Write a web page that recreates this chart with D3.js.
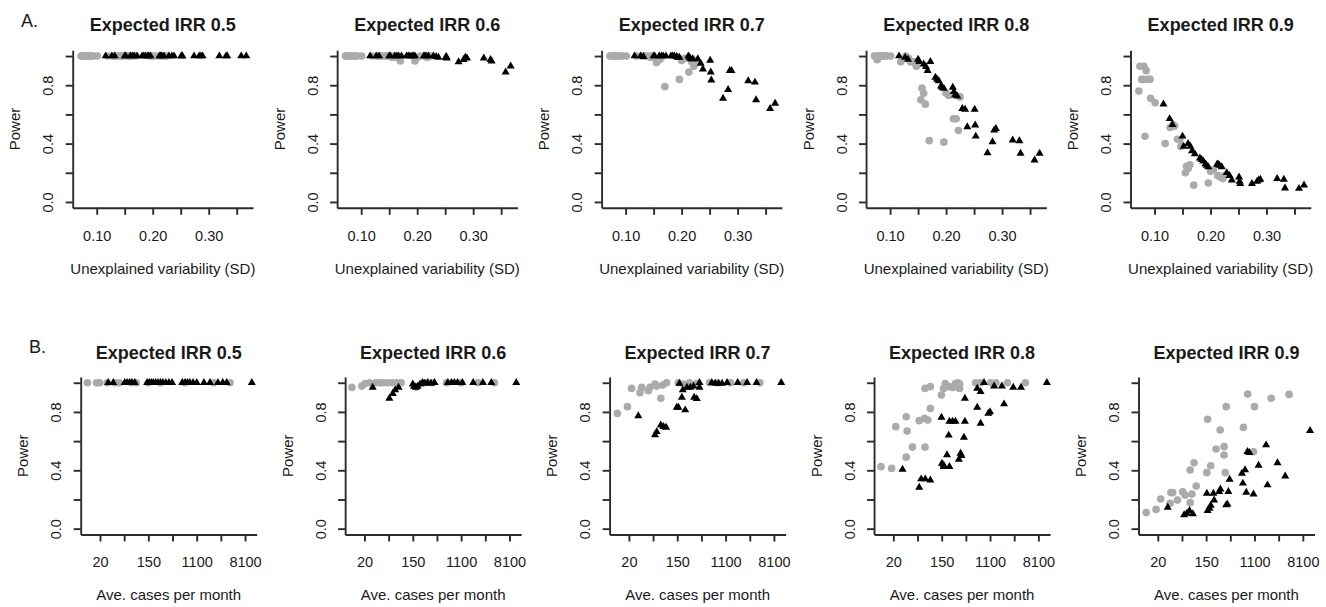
<!DOCTYPE html>
<html><head><meta charset="utf-8">
<script src="https://cdn.jsdelivr.net/npm/d3@7"></script>
<style>
body{margin:0;background:#fff;}
svg{display:block;}
text{font-family:"Liberation Sans",Arial,sans-serif;fill:#1a1a1a;}
</style></head><body>
<svg id="chart" width="1326" height="607"></svg>
<script>
// ---------- DATA ----------
const panelTitles = ["Expected IRR 0.5","Expected IRR 0.6","Expected IRR 0.7","Expected IRR 0.8","Expected IRR 0.9"];
const powerTicks = [0,0.2,0.4,0.6,0.8,1.0];
const powerTickLabels = ["0.0","","0.4","","0.8",""];
const sdTicks = [0.10,0.15,0.20,0.25,0.30,0.35];
const sdTickLabels = ["0.10","","0.20","","0.30",""];
const logCaseTicks = [3,4,5,6,7,8,9];            // natural log of cases
const caseTickLabels = ["20","","150","","1100","","8100"];

// Row A: unexplained variability (SD)
const sdGray  = [0.072,0.074,0.077,0.079,0.081,0.083,0.085,0.087,0.092,0.093,0.101,0.119,0.128,0.133,0.136,0.141,0.145,0.147,0.155,0.157,0.160,0.163,0.170,0.196,0.200,0.205,0.213,0.218,0.222,0.225];
const sdBlack = [0.116,0.127,0.132,0.150,0.152,0.160,0.164,0.167,0.172,0.181,0.184,0.187,0.191,0.193,0.196,0.212,0.214,0.216,0.220,0.229,0.234,0.238,0.251,0.252,0.253,0.274,0.283,0.286,0.289,0.319,0.331,0.333,0.358,0.367];

const powerGrayA05 = [1,1,1,1,1,1,1,1,1,1,1,1,1,1,1,1,1,1,1,1,1,1,1,1,1,1,1,1,1,1];
const powerGrayA06 = [1,1,1,1,1,1,1,1,1,1,1,1,1,1,1,1,1,1,0.99,1,1,0.99,0.966,0.966,0.99,1,1,0.99,1,1];
const powerGrayA07 = [1,1,1,1,1,1,1,1,1,1,1,1,1,1,1,1,0.99,1,0.955,0.97,0.975,0.985,0.79,0.84,0.97,0.985,0.89,0.96,0.93,0.97];
const powerGrayA08 = [1,1,0.975,1,1,1,1,1,1,1,1,0.96,1,0.985,0.96,0.96,0.96,0.93,0.70,0.78,0.745,0.67,0.42,0.41,0.745,0.73,0.57,0.57,0.49,0.72];
const powerGrayA09 = [0.76,0.93,0.84,0.84,0.93,0.45,0.90,0.84,0.84,0.71,0.68,0.40,0.51,0.53,0.52,0.43,0.425,0.38,0.20,0.245,0.23,0.255,0.115,0.13,0.21,0.22,0.18,0.17,0.16,0.18];

const powerBlackA05 = [1,1,1,1,1,1,1,1,1,1,1,1,1,1,1,1,1,1,1,1,1,1,1,1,1,1,1,1,1,1,1,1,1,1];
const powerBlackA06 = [1,1,1,1,1,1,1,1,1,1,1,1,1,1,1,1,1,1,1,1,0.995,0.99,0.99,0.995,0.985,0.96,0.975,0.99,0.985,0.985,0.975,0.965,0.89,0.93];
const powerBlackA07 = [1,1,0.995,1,1,1,1,1,1,1,1,1,0.995,0.99,0.99,1,0.99,0.98,0.98,0.98,0.95,0.91,0.97,0.89,0.835,0.71,0.77,0.90,0.90,0.83,0.82,0.70,0.64,0.675];
const powerBlackA08 = [1,0.99,0.977,0.977,0.961,0.945,0.927,0.90,0.961,0.854,0.84,0.83,0.794,0.785,0.778,0.785,0.755,0.732,0.725,0.64,0.634,0.515,0.634,0.526,0.45,0.336,0.412,0.492,0.503,0.423,0.419,0.332,0.286,0.332];
const powerBlackA09 = [0.67,0.57,0.53,0.45,0.38,0.40,0.38,0.35,0.33,0.30,0.29,0.28,0.26,0.25,0.24,0.26,0.255,0.25,0.24,0.20,0.18,0.15,0.17,0.14,0.125,0.125,0.14,0.15,0.155,0.16,0.155,0.095,0.092,0.115];

// Row B: [ln(average cases per month), power]
const grayB05 = [[2.48,1],[2.86,1],[2.98,1],[3.30,1],[3.62,1],[3.80,1],[4.30,1],[4.50,1],[5.00,1],[5.50,1],[6.50,1],[7.70,1],[8.38,1]];
const blackB05 = [[3.34,1],[3.55,1],[4.02,1],[4.12,1],[4.22,1],[4.32,1],[4.44,1],[4.95,1],[5.04,1],[5.12,1],[5.20,1],[5.30,1],[5.40,1],[5.50,1],[5.60,1],[5.72,1],[5.85,1],[5.98,1],[6.40,1],[6.52,1],[6.62,1],[6.72,1],[6.85,1],[7.00,1],[7.30,1],[7.55,1],[7.88,1],[8.08,1],[8.24,1],[9.28,1]];
const grayB06 = [[2.48,0.968],[2.89,0.977],[3.03,0.995],[3.22,1],[3.48,1],[3.65,1],[3.80,1],[3.97,1],[4.15,1],[4.33,1],[4.52,1],[5.14,0.97],[5.50,1],[5.80,1],[6.40,1],[7.00,1],[7.70,1],[8.38,1]];
const blackB06 = [[3.34,0.968],[4.03,0.893],[4.17,0.925],[4.27,0.95],[4.41,0.968],[5.00,0.99],[5.05,0.975],[5.12,0.968],[5.20,0.975],[5.30,0.99],[5.40,1],[5.50,0.995],[5.62,1],[5.75,0.995],[5.90,1],[6.45,1],[6.60,1],[6.72,1],[6.85,1],[7.05,1],[7.50,1],[7.90,1],[8.25,1],[9.28,1]];
const grayB07 = [[2.52,0.79],[2.94,0.836],[3.11,0.961],[3.46,0.932],[3.53,0.968],[3.80,0.945],[3.87,0.968],[4.08,0.99],[4.15,0.977],[4.32,0.893],[4.40,0.984],[4.56,1],[5.04,1],[5.26,0.99],[5.51,1],[5.81,0.995],[6.34,1],[6.64,1],[7.20,1],[7.75,1],[8.42,1]];
const blackB07 = [[3.39,0.772],[4.08,0.642],[4.15,0.664],[4.32,0.71],[4.43,0.699],[4.54,0.694],[4.98,0.831],[5.05,0.831],[5.09,0.995],[5.19,0.90],[5.23,0.95],[5.33,0.813],[5.40,0.968],[5.54,0.968],[5.67,0.977],[5.70,0.90],[5.81,0.89],[5.92,0.968],[5.92,1],[6.43,1],[6.57,0.995],[6.71,0.995],[6.85,0.995],[7.06,1],[7.50,1],[7.89,1],[8.28,1],[9.30,1]];
const grayB08 = [[2.49,0.425],[2.93,0.413],[3.10,0.699],[3.53,0.767],[3.53,0.49],[3.57,0.669],[3.79,0.559],[4.07,0.74],[4.29,0.756],[4.31,0.559],[4.31,0.961],[4.43,0.744],[4.53,0.824],[4.53,0.973],[4.99,0.916],[5.08,0.961],[5.15,0.995],[5.32,0.973],[5.46,0.968],[5.57,0.995],[5.68,1],[5.74,0.961],[5.74,0.99],[6.40,1],[6.61,1],[7.03,1],[7.24,1],[7.72,1],[8.46,1]];
const blackB08 = [[3.38,0.406],[4.07,0.283],[4.15,0.34],[4.32,0.34],[4.53,0.333],[4.99,0.763],[5.01,0.447],[5.08,0.436],[5.08,0.425],[5.22,0.505],[5.32,0.425],[5.29,0.64],[5.32,0.735],[5.45,0.735],[5.57,0.735],[5.71,0.475],[5.78,0.516],[5.82,0.5],[5.92,0.626],[5.96,0.735],[5.96,0.893],[6.47,0.831],[6.47,0.961],[6.61,0.721],[6.61,0.938],[6.75,1],[6.93,0.79],[7.0,0.80],[7.17,0.977],[7.49,0.977],[7.58,0.854],[7.96,0.968],[8.28,0.968],[9.35,1]];
const grayB09 = [[2.52,0.11],[2.93,0.132],[3.12,0.203],[3.51,0.174],[3.54,0.247],[3.62,0.247],[3.81,0.196],[4.03,0.253],[4.13,0.23],[4.34,0.402],[4.34,0.178],[4.41,0.237],[4.50,0.452],[4.59,0.292],[5.03,0.384],[5.06,0.749],[5.19,0.431],[5.41,0.546],[5.58,0.676],[5.74,0.562],[5.74,0.505],[5.79,0.384],[5.83,0.836],[6.54,0.694],[6.72,0.922],[6.96,0.527],[7.0,0.836],[7.69,0.893],[8.43,0.92]];
const blackB09 = [[3.41,0.146],[4.09,0.094],[4.20,0.105],[4.31,0.123],[4.45,0.101],[5.03,0.242],[5.06,0.123],[5.14,0.139],[5.19,0.16],[5.30,0.242],[5.33,0.196],[5.54,0.253],[5.59,0.27],[5.83,0.162],[5.88,0.167],[5.92,0.253],[5.97,0.338],[6.48,0.379],[6.61,0.402],[6.52,0.311],[6.66,0.249],[6.71,0.527],[6.79,0.521],[6.96,0.237],[7.17,0.434],[7.48,0.573],[7.54,0.299],[7.95,0.45],[8.27,0.36],[9.30,0.671]];

// ---------- LAYOUT ----------
const STEP = 264.45;
const rowA = {left:72.7, right:253, top:50.2, bottom:207.8, xDomain:[0.0571,0.3791],
  xTicks:sdTicks, xLabels:sdTickLabels, xTitle:"Unexplained variability (SD)", titleY:31, xTitleY:274, letter:"A.", letterX:21, letterY:27};
const rowB = {left:80.7, right:256.7, top:376.9, bottom:534.5, xDomain:[2.2015,9.483],
  xTicks:logCaseTicks, xLabels:caseTickLabels, xTitle:"Ave. cases per month", titleY:359, xTitleY:600, letter:"B.", letterX:29, letterY:353};

const svg = d3.select("#chart");
const AXIS = "#2b2b2b";
const GRAY = "#ababab";
const circ = d3.symbol().type(d3.symbolCircle).size(46);
const tri = d3.symbol().type(d3.symbolTriangle).size(28);

function drawPanel(cfg, i, title, grayPts, blackPts) {
  const g = svg.append("g").attr("transform", `translate(${i*STEP},0)`);
  const x = d3.scaleLinear().domain(cfg.xDomain).range([cfg.left, cfg.right]);
  const y = d3.scaleLinear().domain([-0.04, 1.04]).range([cfg.bottom, cfg.top]);

  const ya = g.append("g").attr("transform", `translate(${cfg.left},0)`)
    .call(d3.axisLeft(y).tickValues(powerTicks).tickFormat((d,k)=>powerTickLabels[k]).tickSize(7).tickSizeOuter(0));
  ya.selectAll("text").attr("transform","rotate(-90)").attr("x",0).attr("y",-24.5).attr("dy","0.35em")
    .attr("text-anchor","middle").style("font-size","14.5px");
  const xa = g.append("g").attr("transform", `translate(0,${cfg.bottom})`)
    .call(d3.axisBottom(x).tickValues(cfg.xTicks).tickFormat((d,k)=>cfg.xLabels[k]).tickSize(7).tickSizeOuter(0).tickPadding(15.7));
  xa.selectAll("text").style("font-size","14.5px");
  g.selectAll(".domain, .tick line").attr("stroke", AXIS).attr("stroke-width", 1.9);
  g.selectAll(".tick text").attr("fill", "#1a1a1a").attr("font-family", '"Liberation Sans", Arial, sans-serif');

  const cx = (cfg.left + cfg.right)/2;
  g.append("text").attr("x", cx).attr("y", cfg.titleY).attr("text-anchor","middle")
    .style("font-size","18px").style("font-weight","bold").text(title);
  g.append("text").attr("x", cx).attr("y", cfg.xTitleY).attr("text-anchor","middle")
    .style("font-size","15px").text(cfg.xTitle);
  const py = (y(0)+y(1))/2;
  g.append("text").attr("transform", `translate(${cfg.left-57.7},${py}) rotate(-90)`)
    .attr("text-anchor","middle").attr("dy","0.35em").style("font-size","15px").text("Power");

  g.append("g").selectAll("path").data(grayPts).join("path")
    .attr("d", circ).attr("fill", GRAY)
    .attr("transform", d => `translate(${x(d[0])},${y(d[1])})`);
  g.append("g").selectAll("path").data(blackPts).join("path")
    .attr("d", tri).attr("fill", "#000")
    .attr("transform", d => `translate(${x(d[0])},${y(d[1])})`);
}

const zipPts = (xs, ys) => xs.map((v,k) => [v, ys[k]]);
const grayA = [powerGrayA05, powerGrayA06, powerGrayA07, powerGrayA08, powerGrayA09];
const blackA = [powerBlackA05, powerBlackA06, powerBlackA07, powerBlackA08, powerBlackA09];
const grayB = [grayB05, grayB06, grayB07, grayB08, grayB09];
const blackB = [blackB05, blackB06, blackB07, blackB08, blackB09];

for (let i = 0; i < 5; i++) {
  drawPanel(rowA, i, panelTitles[i], zipPts(sdGray, grayA[i]), zipPts(sdBlack, blackA[i]));
  drawPanel(rowB, i, panelTitles[i], grayB[i], blackB[i]);
}
[rowA, rowB].forEach(r => {
  svg.append("text").attr("x", r.letterX).attr("y", r.letterY).style("font-size","18px").text(r.letter);
});
</script>
</body></html>
